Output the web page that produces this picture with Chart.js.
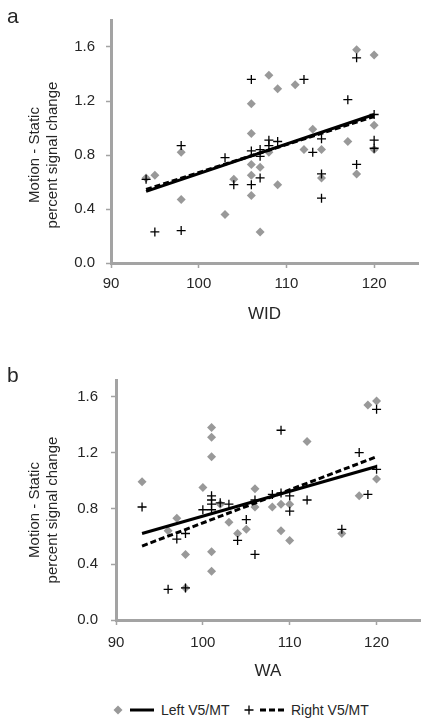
<!DOCTYPE html>
<html>
<head>
<meta charset="utf-8">
<script src="https://cdn.jsdelivr.net/npm/chart.js@4"></script>
<style>
  body { margin: 0; background: #fff; font-family: "Liberation Sans", Arial, sans-serif; color: #262626; }
  #page { position: relative; width: 432px; height: 727px; overflow: hidden; }
  canvas { position: absolute; left: 0; }
  .letter { position: absolute; left: 7px; font-size: 21px; line-height: 21px; }
  .ytitle { position: absolute; left: 43px; font-size: 15px; line-height: 18px; text-align: center;
            white-space: nowrap; transform: translate(-50%, -50%) rotate(-90deg); }
  .leg { position: absolute; font-size: 14px; line-height: 14px; top: 703px; white-space: nowrap; }
  #legsym { position: absolute; left: 0; top: 700px; }
</style>
</head>
<body>
<div id="page">
  <canvas id="chart-a" width="432" height="345" style="top:0"></canvas>
  <canvas id="chart-b" width="432" height="355" style="top:345px"></canvas>
  <div class="letter" style="top:5px">a</div>
  <div class="letter" style="top:364px">b</div>
  <div class="ytitle" style="top:155px">Motion - Static<br>percent signal change</div>
  <div class="ytitle" style="top:510px">Motion - Static<br>percent signal change</div>
  <svg id="legsym" width="432" height="20">
    <polygon points="118,5.5 122.5,10 118,14.5 113.5,10" fill="#999"/>
    <line x1="130" y1="10" x2="154" y2="10" stroke="#000" stroke-width="3"/>
    <path d="M244.5,10 H253.5 M249,5.5 V14.5" stroke="#000" stroke-width="1.3"/>
    <line x1="260" y1="10" x2="284" y2="10" stroke="#000" stroke-width="3" stroke-dasharray="6,3"/>
  </svg>
  <div class="leg" style="left:161px">Left V5/MT</div>
  <div class="leg" style="left:291px">Right V5/MT</div>
</div>
<script>
// Panneau a : WID
const widLeftX  = [94, 95, 98, 98, 103, 104, 106, 106, 106, 106, 106, 107, 107, 108, 109, 111, 118, 120, 113, 112, 114, 117, 120, 120, 118, 114, 109, 108];
const widLeftY  = [0.63, 0.65, 0.82, 0.47, 0.36, 0.62, 1.18, 0.96, 0.73, 0.65, 0.50, 0.23, 0.71, 1.39, 1.29, 1.32, 1.58, 1.54, 0.99, 0.84, 0.84, 0.90, 1.02, 0.84, 0.66, 0.63, 0.58, 0.82];
const widRightX = [94, 95, 98, 98, 103, 104, 106, 106, 106, 107, 107, 107, 108, 108, 109, 112, 113, 114, 114, 114, 117, 118, 118, 120, 120, 120];
const widRightY = [0.62, 0.23, 0.87, 0.24, 0.78, 0.58, 1.36, 0.83, 0.58, 0.63, 0.84, 0.79, 0.91, 0.87, 0.90, 1.36, 0.82, 0.92, 0.66, 0.48, 1.21, 1.52, 0.73, 1.10, 0.91, 0.85];
const widFitX      = [94, 120];
const widLeftFitY  = [0.53, 1.10];
const widRightFitY = [0.545, 1.085];

// Panneau b : WA
const waLeftX  = [93, 96, 97, 98, 98, 100, 101, 101, 101, 101, 101, 102, 103, 104, 105, 106, 106, 108, 109, 110, 109, 110, 112, 116, 118, 119, 120, 120];
const waLeftY  = [0.99, 0.64, 0.73, 0.47, 0.23, 0.95, 1.38, 1.31, 1.17, 0.49, 0.35, 0.83, 0.70, 0.62, 0.65, 0.94, 0.81, 0.81, 0.83, 0.83, 0.64, 0.57, 1.28, 0.62, 0.89, 1.54, 1.57, 1.01];
const waRightX = [93, 96, 98, 98, 97, 100, 101, 101, 101, 101, 102, 103, 104, 105, 106, 106, 108, 109, 109, 110, 110, 112, 116, 118, 119, 120, 120];
const waRightY = [0.81, 0.22, 0.23, 0.62, 0.58, 0.79, 0.89, 0.86, 0.83, 0.79, 0.84, 0.83, 0.57, 0.72, 0.47, 0.86, 0.90, 1.36, 0.91, 0.89, 0.78, 0.86, 0.65, 1.20, 0.90, 1.51, 1.08];
const waFitX      = [93, 120];
const waLeftFitY  = [0.62, 1.10];
const waRightFitY = [0.53, 1.17];

const xTicks = [90, 100, 110, 120];
const yTicks = [0, 0.4, 0.8, 1.2, 1.6];

const axisGray = '#a3a3a3';
const textColor = '#262626';

function pts(xs, ys) {
    return xs.map((x, i) => ({ x: x, y: ys[i] }));
}

function makePanel(id, p) {
    return new Chart(document.getElementById(id), {
        type: 'scatter',
        data: {
            datasets: [
                // les droites de tendance passent devant les points
                { data: pts(p.fitX, p.leftFit), showLine: true, borderColor: '#000', borderWidth: 3, pointRadius: 0 },
                { data: pts(p.fitX, p.rightFit), showLine: true, borderColor: '#000', borderWidth: 3, borderDash: [6, 3], pointRadius: 0 },
                { data: pts(p.rightX, p.rightY), pointStyle: 'cross', radius: 4.5, borderColor: '#000', borderWidth: 1.3 },
                { data: pts(p.leftX, p.leftY), pointStyle: 'rectRot', radius: 4.5, backgroundColor: '#999', borderColor: '#999', borderWidth: 0 }
            ]
        },
        options: {
            responsive: false,
            animation: false,
            events: [],
            layout: { padding: { top: p.top, right: p.right, left: 0, bottom: 0 } },
            plugins: { legend: { display: false }, tooltip: { enabled: false } },
            scales: {
                x: {
                    type: 'linear', min: 90, max: 125,
                    afterBuildTicks: s => { s.ticks = xTicks.map(v => ({ value: v })); },
                    afterFit: s => { s.height = p.xHeight; },
                    ticks: { color: textColor, font: { size: 15, family: 'Liberation Sans' }, padding: p.xPad, maxRotation: 0 },
                    grid: { drawOnChartArea: false, color: axisGray, tickLength: 5, tickWidth: 1.5 },
                    border: { color: axisGray, width: 3 },
                    title: { display: true, text: p.xTitle, color: textColor, font: { size: 17, family: 'Liberation Sans' }, padding: { top: 0, bottom: p.titlePad } }
                },
                y: {
                    type: 'linear', min: 0, max: p.yMax,
                    afterBuildTicks: s => { s.ticks = yTicks.map(v => ({ value: v })); },
                    afterFit: s => { s.width = p.yWidth; },
                    ticks: { color: textColor, font: { size: 15, family: 'Liberation Sans' }, padding: p.yPad, callback: v => v.toFixed(1) },
                    grid: { drawOnChartArea: false, color: axisGray, tickLength: 5, tickWidth: 1.5 },
                    border: { color: axisGray, width: 3 }
                }
            }
        }
    });
}

const chartA = makePanel('chart-a', {
    leftX: widLeftX, leftY: widLeftY, rightX: widRightX, rightY: widRightY,
    fitX: widFitX, leftFit: widLeftFitY, rightFit: widRightFitY,
    xTitle: 'WID', yMax: 1.8, top: 12, right: 14, yWidth: 111, xHeight: 82,
    xPad: 7, yPad: 11, titlePad: 20.8
});

const chartB = makePanel('chart-b', {
    leftX: waLeftX, leftY: waLeftY, rightX: waRightX, rightY: waRightY,
    fitX: waFitX, leftFit: waLeftFitY, rightFit: waRightFitY,
    xTitle: 'WA', yMax: 1.72, top: 35, right: 12, yWidth: 116, xHeight: 80,
    xPad: 9, yPad: 13, titlePad: 18.8
});
</script>
</body>
</html>
